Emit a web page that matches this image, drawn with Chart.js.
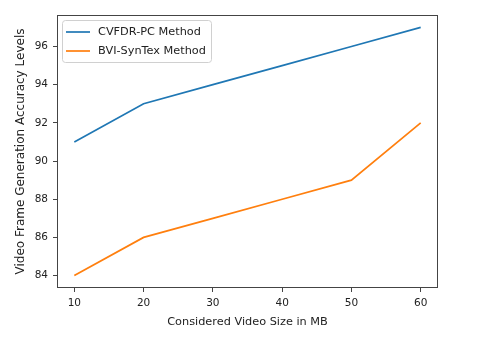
<!DOCTYPE html>
<html>
<head>
<meta charset="utf-8">
<script src="https://cdn.jsdelivr.net/npm/chart.js@4/dist/chart.umd.min.js"></script>
<style>
  html, body { margin: 0; padding: 0; background: #fff; }
  #wrap { width: 480px; height: 337px; }
</style>
</head>
<body>
<div id="wrap"><canvas id="accChart" width="480" height="337"></canvas></div>
<script>
// values
const videoSizes = [10, 20, 30, 40, 50, 60];
const cvfdrValues = [91, 93, 94, 95, 96, 97];
const bviValues = [84, 86, 87, 88, 89, 92];
const xTicks = [10, 20, 30, 40, 50, 60];
const yTicks = [84, 86, 88, 90, 92, 94, 96];

const FONT = "'DejaVu Sans', sans-serif";

// matplotlib style frame around the plot
const frame = {
  id: "frame",
  afterDatasetsDraw(chart) {
    const a = chart.chartArea;
    const c = chart.ctx;
    c.save();
    c.strokeStyle = "#444";
    c.lineWidth = 1;
    c.strokeRect(Math.round(a.left) + 0.5, Math.round(a.top) + 0.5,
      Math.round(a.right - a.left) - 1, Math.round(a.bottom - a.top) - 1);
    c.restore();
  },
};

// legend drawn inside the axes, upper left
const innerLegend = {
  id: "innerLegend",
  afterDraw(chart) {
    const a = chart.chartArea;
    const c = chart.ctx;
    const x = a.left + 5, y = a.top + 5, w = 149, h = 42;
    c.save();
    c.fillStyle = "rgba(255,255,255,0.8)";
    c.strokeStyle = "#d0d0d0";
    c.lineWidth = 1;
    c.beginPath();
    c.roundRect(x + 0.5, y + 0.5, w, h, 3);
    c.fill();
    c.stroke();
    c.font = "11.3px " + FONT;
    c.textBaseline = "middle";
    chart.data.datasets.forEach((ds, i) => {
      const ly = y + 12 + i * 19;
      c.strokeStyle = ds.borderColor;
      c.lineWidth = 1.7;
      c.beginPath();
      c.moveTo(x + 4, ly);
      c.lineTo(x + 28, ly);
      c.stroke();
      c.fillStyle = "#222";
      c.fillText(ds.label, x + 36, ly);
    });
    c.restore();
  },
};

new Chart(document.getElementById("accChart"), {
  type: "line",
  data: {
    datasets: [
      {
        label: "CVFDR-PC Method",
        data: videoSizes.map((v, i) => ({ x: v, y: cvfdrValues[i] })),
        borderColor: "#1f77b4",
        borderWidth: 1.7,
        pointRadius: 0,
        tension: 0,
      },
      {
        label: "BVI-SynTex Method",
        data: videoSizes.map((v, i) => ({ x: v, y: bviValues[i] })),
        borderColor: "#ff7f0e",
        borderWidth: 1.7,
        pointRadius: 0,
        tension: 0,
      },
    ],
  },
  options: {
    responsive: false,
    animation: false,
    layout: { padding: { left: 0, right: 42, top: 15, bottom: 0 } },
    plugins: {
      legend: { display: false },
      tooltip: { enabled: false },
    },
    scales: {
      x: {
        type: "linear",
        min: 7.5,
        max: 62.5,
        afterBuildTicks: (s) => { s.ticks = xTicks.map((v) => ({ value: v })); },
        afterFit: (s) => { s.height = 49; },
        grid: { drawOnChartArea: false, tickLength: 4, color: "#444" },
        border: { display: false },
        ticks: { font: { family: FONT, size: 10.5 }, color: "#222", padding: 5, maxRotation: 0 },
        title: {
          display: true,
          text: "Considered Video Size in MB",
          font: { family: FONT, size: 11.3 },
          color: "#222",
          padding: { top: 0, bottom: 8 },
        },
      },
      y: {
        min: 83.35,
        max: 97.65,
        afterBuildTicks: (s) => { s.ticks = yTicks.map((v) => ({ value: v })); },
        afterFit: (s) => { s.width = 57; },
        grid: { drawOnChartArea: false, tickLength: 4, color: "#444" },
        border: { display: false },
        ticks: { font: { family: FONT, size: 10.5 }, color: "#222", padding: 5 },
        title: {
          display: true,
          text: "Video Frame Generation Accuracy Levels",
          font: { family: FONT, size: 12 },
          color: "#222",
          padding: { top: 14, bottom: 0 },
        },
      },
    },
  },
  plugins: [frame, innerLegend],
});
</script>
</body>
</html>
